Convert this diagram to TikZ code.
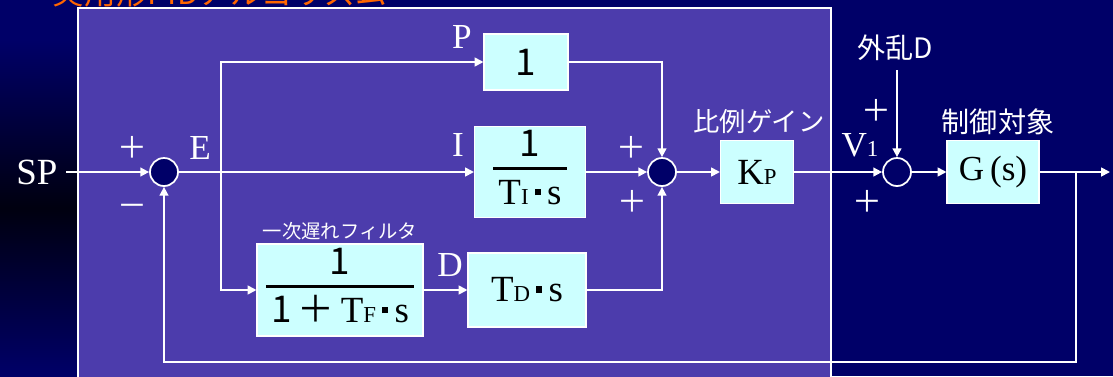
\documentclass[tikz,border=0pt]{standalone}
\usepackage{fontspec}
\setmainfont{Liberation Serif}
\newfontfamily\jfont{Noto Sans CJK JP}
\usetikzlibrary{arrows.meta}
\definecolor{bgnavy}{RGB}{0,0,104}
\definecolor{panel}{RGB}{76,60,172}
\definecolor{blkfill}{RGB}{204,255,255}
\definecolor{titleorange}{RGB}{255,102,0}
% small letters sitting on the baseline (T_I, K_P, V_1 ...)
\newcommand{\sml}[1]{{\fontsize{13}{13}\selectfont #1}}
% square product dot
\newcommand{\pdot}{\,\rule[0.55ex]{0.17em}{0.17em}\,}
% stacked fraction with a heavy bar
\newcommand{\blkfrac}[2]{\begingroup\setlength{\arrayrulewidth}{1.2pt}%
  \begin{tabular}{@{\hspace{3pt}}c@{\hspace{3pt}}}#1\\[-1pt]\hline\noalign{\vskip 3pt}#2\end{tabular}\endgroup}

\begin{document}
\begin{tikzpicture}[
    x=0.02cm, y=-0.02cm,
    line width=1pt,
    % blocks: light cyan boxes with black serif text
    blk/.style={draw=white, line width=0.6pt, fill=blkfill, text=black, inner sep=0pt, font=\fontsize{21}{24}\selectfont},
    % summing points
    sumpt/.style={circle, draw=white, line width=1pt, fill=bgnavy, minimum size=0.56cm, inner sep=0pt},
    % signal names (SP, E, P, I, D, V1)
    sig/.style={text=white, inner sep=1pt, font=\fontsize{20}{22}\selectfont},
    % japanese captions
    jcap/.style={text=white, inner sep=0pt, font=\jfont\fontsize{16}{18}\selectfont},
    % signs at the summing points
    sgn/.style={text=white, inner sep=0pt, font=\jfont\fontsize{17}{18}\selectfont},
    % signal lines
    wire/.style={draw=white, line width=1pt, -{Triangle[length=5pt,width=5pt]}}
]
    \useasboundingbox (0,0) rectangle (1113,376);

    % --- Background and controller panel ---
    \fill[bgnavy] (0,0) rectangle (1113,376);
    \shade[top color=bgnavy, bottom color=bgnavy, middle color=black!85!bgnavy] (0,40) rectangle (78,376);
    \fill[panel] (78,8) rectangle (831,380);
    \draw[white, line width=1.2pt] (78,380) -- (78,8) -- (831,8) -- (831,380);
    \node[anchor=base west, text=titleorange, inner sep=0pt, font=\jfont\fontsize{18}{18}\selectfont] (title) at (52,4) {実用形PIDアルゴリズム};

    % --- Blocks ---
    \node[blk, minimum width=1.68cm, minimum height=1.12cm] (pblk) at (526,62) {\jfont 1};
    \node[blk, minimum width=2.22cm, minimum height=1.82cm] (iblk) at (530,172) {\blkfrac{\jfont 1}{T\sml{I}\pdot s}};
    \node[blk, minimum width=3.32cm, minimum height=1.84cm] (fblk) at (340,290) {\blkfrac{\jfont 1}{{\jfont 1\,＋\,}T\sml{F}\pdot s}};
    \node[blk, minimum width=2.36cm, minimum height=1.48cm] (dblk) at (527,290) {T\sml{D}\pdot s};
    \node[blk, minimum width=1.46cm, minimum height=1.26cm] (kp) at (757,172) {K\sml{P}};
    \node[blk, minimum width=1.84cm, minimum height=1.26cm, font=\fontsize{20}{22}\selectfont] (gblk) at (993,172) {G\,(s)};

    % --- Summing points ---
    \node[sumpt] (sum1) at (164,172) {};
    \node[sumpt] (sum2) at (662,172) {};
    \node[sumpt] (sum3) at (897,172) {};

    % --- Signal names and captions ---
    \node[sig, font=\fontsize{21}{22}\selectfont, anchor=east] (sp) at (60,172) {SP};
    \node[sig] (elbl) at (200,148) {E};
    \node[sig] (plbl) at (462,37) {P};
    \node[sig] (ilbl) at (458,145) {I};
    \node[sig] (dlbl) at (450,265) {D};
    \node[sig] (vlbl) at (860,145) {V\sml{1}};
    \node[jcap, font=\jfont\fontsize{11}{12}\selectfont] (fcap) at (340,231) {一次遅れフィルタ};
    \node[jcap, font=\jfont\fontsize{15}{16}\selectfont] (kcap) at (759,122) {比例ゲイン};
    \node[jcap] (gcap) at (998,122) {制御対象};
    \node[jcap] (dist) at (895,48) {外乱D};

    % signs
    \node[sgn] (s1p) at (132,147) {＋};
    \node[sgn] (s1m) at (132,210) {－};
    \node[sgn] (s2a) at (631,147) {＋};
    \node[sgn] (s2b) at (632,201) {＋};
    \node[sgn] (s3a) at (876,110) {＋};
    \node[sgn] (s3b) at (867,201) {＋};

    % --- Connectors ---
    \coordinate (br) at (221,172);
    \coordinate (din) at (897,70);
    \coordinate (fb) at (1076,172);
    \coordinate (fbl) at (1076,362);
    \coordinate (out) at (1110,172);

    \draw[wire] (sp.east) ++(6,0) -- (sum1.west);
    \draw[wire] (sum1.east) -- (iblk.west);
    \draw[wire] (br) |- (pblk.west);
    \draw[wire] (br) |- (fblk.west);
    \draw[wire] (fblk.east) -- (dblk.west);
    \draw[wire] (pblk.east) -| (sum2.north);
    \draw[wire] (iblk.east) -- (sum2.west);
    \draw[wire] (dblk.east) -| (sum2.south);
    \draw[wire] (sum2.east) -- (kp.west);
    \draw[wire] (kp.east) -- (sum3.west);
    \draw[wire] (din) -- (sum3.north);
    \draw[wire] (sum3.east) -- (gblk.west);
    \draw[wire] (gblk.east) -- (out);
    \draw[wire] (fb) -- (fbl) -| (sum1.south);

\end{tikzpicture}
\end{document}
